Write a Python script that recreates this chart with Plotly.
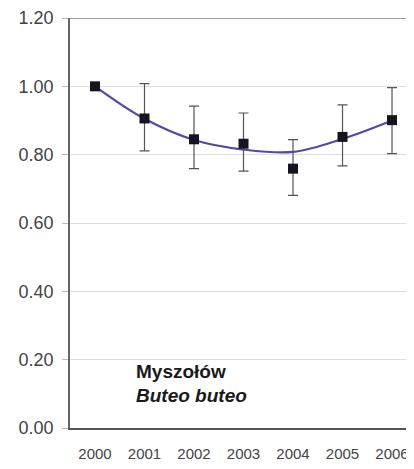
import plotly.graph_objects as go

years = [2000, 2001, 2002, 2003, 2004, 2005, 2006]
index_values = [1.00, 0.906, 0.845, 0.832, 0.759, 0.852, 0.901]
err_plus = [0.0, 0.102, 0.097, 0.090, 0.085, 0.094, 0.095]
err_minus = [0.0, 0.095, 0.086, 0.080, 0.078, 0.085, 0.098]
trend_values = [1.00, 0.905, 0.843, 0.815, 0.808, 0.846, 0.900]
y_ticks = [0.0, 0.2, 0.4, 0.6, 0.8, 1.0, 1.2]
y_tick_labels = ["0.00", "0.20", "0.40", "0.60", "0.80", "1.00", "1.20"]
species_pl = "Myszołów"
species_lat = "Buteo buteo"

font_family = "Arial, Liberation Sans, sans-serif"

fig = go.Figure()

fig.add_trace(go.Scatter(
    x=years, y=trend_values, mode="lines",
    line=dict(color="#5548a8", width=2.2, shape="spline", smoothing=1.0),
    hoverinfo="skip", showlegend=False,
))

fig.add_trace(go.Scatter(
    x=years, y=index_values, mode="markers",
    marker=dict(symbol="square", size=10, color="#15151f",
                line=dict(color="#15151f", width=0)),
    error_y=dict(type="data", symmetric=False, array=err_plus, arrayminus=err_minus,
                 color="#555555", thickness=1.2, width=5),
    showlegend=False,
))

# top border line at 1.20
fig.add_shape(type="line", xref="paper", yref="y", x0=0, x1=1, y0=1.2, y1=1.2,
              line=dict(color="#9a9a9a", width=2), layer="above")

fig.add_annotation(x=2000.79, y=0.164, xref="x", yref="y", text="<b>" + species_pl + "</b>",
                   showarrow=False, xanchor="left", yanchor="middle",
                   font=dict(family=font_family, size=19, color="#1a1a1a"))
fig.add_annotation(x=2000.79, y=0.096, xref="x", yref="y", text="<b><i>" + species_lat + "</i></b>",
                   showarrow=False, xanchor="left", yanchor="middle",
                   font=dict(family=font_family, size=19, color="#1a1a1a"))

# page body has an 8px default margin; compensate in figure size/margins
fig.update_layout(
    width=406, height=453,
    margin=dict(l=62, r=0, t=10, b=33, autoexpand=False),
    paper_bgcolor="white", plot_bgcolor="white",
    font=dict(family=font_family, color="#444444"),
    xaxis=dict(
        range=[1999.495, 2006.444], tickmode="array", tickvals=years,
        ticktext=[str(y) for y in years], showgrid=False, zeroline=False,
        showline=True, linecolor="#555555", linewidth=1.5, ticks="",
        tickfont=dict(size=15, color="#444444"), ticklabelstandoff=11,
        automargin=False, fixedrange=True,
    ),
    yaxis=dict(
        range=[0, 1.2], tickmode="array", tickvals=y_ticks, ticktext=y_tick_labels,
        showgrid=True, gridcolor="#dedede", gridwidth=1, zeroline=False,
        showline=True, linecolor="#666666", linewidth=1.5,
        ticks="outside", ticklen=6, tickcolor="#bbbbbb",
        tickfont=dict(size=18, color="#444444"), ticklabelstandoff=5,
        automargin=False, fixedrange=True,
    ),
)

fig.write_html("out.html")
